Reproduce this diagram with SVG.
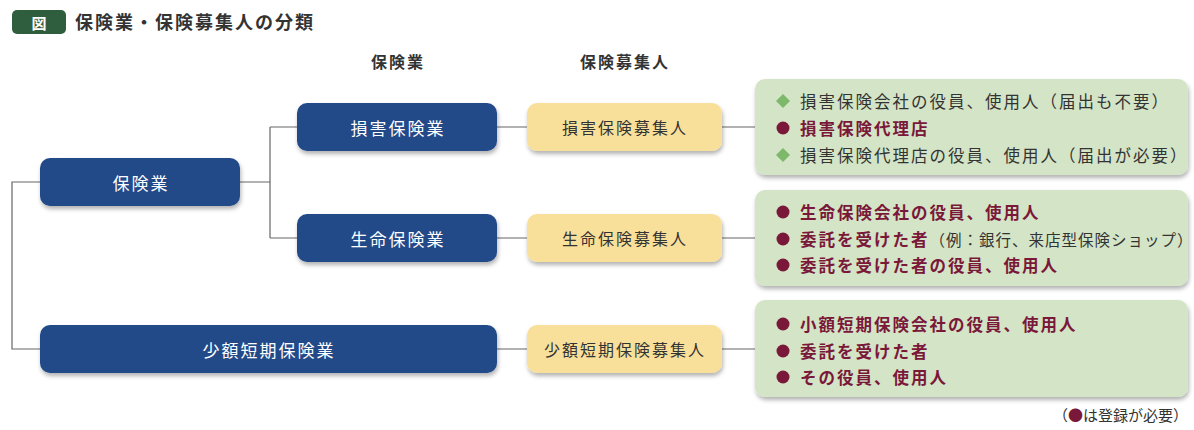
<svg xmlns="http://www.w3.org/2000/svg" width="1194" height="430" viewBox="0 0 1194 430">
<defs>
<filter id="sh" x="-10%" y="-20%" width="120%" height="150%">
<feDropShadow dx="1" dy="3" stdDeviation="2" flood-color="#000" flood-opacity="0.3"/>
</filter>
<style>
text{font-family:"Noto Sans CJK JP","Noto Sans",sans-serif}
.blue{fill:#214a88;filter:url(#sh)}
.yel{fill:#f8e09b;filter:url(#sh)}
.grn{fill:#d4e4c6;filter:url(#sh)}
.bt{fill:#fff;font-size:17px;letter-spacing:2px;text-anchor:middle;dominant-baseline:central}
.yt{fill:#333;font-size:16px;letter-spacing:2px;text-anchor:middle;dominant-baseline:central}
.hd{fill:#333;font-size:16px;font-weight:bold;letter-spacing:2px;text-anchor:middle}
.li{font-size:16.5px;letter-spacing:2px;dominant-baseline:central}
.m{fill:#7a1839;font-weight:bold}
.g{fill:#333}
.sm{fill:#333;font-weight:normal;font-size:15.5px;letter-spacing:1px}
.dot{fill:#7a1839}
.dia{fill:#7db86b}
.ln{stroke:#666;stroke-width:1.2;fill:none}
</style>
</defs>
<rect width="1194" height="430" fill="#fff"/>
<g id="title">
<rect x="12" y="10" width="54" height="24" rx="5" fill="#2f5e3f"/>
<text x="39" y="22.5" fill="#fff" font-size="15" font-weight="bold" text-anchor="middle" dominant-baseline="central">図</text>
<text x="75" y="29" fill="#333" font-size="18" font-weight="bold" letter-spacing="2">保険業・保険募集人の分類</text>
</g>
<g id="headers">
<text class="hd" x="398" y="68">保険業</text>
<text class="hd" x="625" y="68">保険募集人</text>
</g>
<g id="connectors">
<path class="ln" d="M240 182H270M270 127V238M270 127H297M270 238H297"/>
<path class="ln" d="M40 182H12V349H40"/>
<path class="ln" d="M497 127H527M497 238H527M497 349H527"/>
<path class="ln" d="M722 127H755M722 238H755M722 349H755"/>
</g>
<g id="n-hoken">
<rect class="blue" x="40" y="158" width="200" height="48" rx="10"/>
<text class="bt" x="141" y="182">保険業</text>
</g>
<g id="n-songai">
<rect class="blue" x="297" y="103" width="200" height="48" rx="10"/>
<text class="bt" x="398" y="127">損害保険業</text>
</g>
<g id="n-seimei">
<rect class="blue" x="297" y="214" width="200" height="48" rx="10"/>
<text class="bt" x="398" y="238">生命保険業</text>
</g>
<g id="n-shougaku">
<rect class="blue" x="40" y="325" width="457" height="48" rx="10"/>
<text class="bt" x="269" y="349">少額短期保険業</text>
</g>
<g id="y-songai">
<rect class="yel" x="527" y="103" width="195" height="48" rx="10"/>
<text class="yt" x="625" y="127">損害保険募集人</text>
</g>
<g id="y-seimei">
<rect class="yel" x="527" y="214" width="195" height="48" rx="10"/>
<text class="yt" x="625" y="238">生命保険募集人</text>
</g>
<g id="y-shougaku">
<rect class="yel" x="527" y="325" width="195" height="48" rx="10"/>
<text class="yt" x="625" y="349">少額短期保険募集人</text>
</g>
<g id="g-songai">
<rect class="grn" x="755" y="79" width="433" height="96" rx="10"/>
<path class="dia" d="M783 94l7 7-7 7-7-7z"/>
<text class="li g" x="800" y="101">損害保険会社の役員、使用人（届出も不要）</text>
<circle class="dot" cx="783" cy="128" r="6.5"/>
<text class="li m" x="800" y="128">損害保険代理店</text>
<path class="dia" d="M783 148l7 7-7 7-7-7z"/>
<text class="li g" x="800" y="155">損害保険代理店の役員、使用人（届出が必要）</text>
</g>
<g id="g-seimei">
<rect class="grn" x="755" y="190" width="433" height="96" rx="10"/>
<circle class="dot" cx="783" cy="212" r="6.5"/>
<text class="li m" x="800" y="212">生命保険会社の役員、使用人</text>
<circle class="dot" cx="783" cy="239" r="6.5"/>
<text class="li m" x="800" y="239">委託を受けた者<tspan class="sm">（例：銀行、来店型保険ショップ）</tspan></text>
<circle class="dot" cx="783" cy="265" r="6.5"/>
<text class="li m" x="800" y="265">委託を受けた者の役員、使用人</text>
</g>
<g id="g-shougaku">
<rect class="grn" x="755" y="300" width="433" height="97" rx="10"/>
<circle class="dot" cx="783" cy="324" r="6.5"/>
<text class="li m" x="800" y="324">小額短期保険会社の役員、使用人</text>
<circle class="dot" cx="783" cy="351" r="6.5"/>
<text class="li m" x="800" y="351">委託を受けた者</text>
<circle class="dot" cx="783" cy="377" r="6.5"/>
<text class="li m" x="800" y="377">その役員、使用人</text>
</g>
<g id="note">
<text x="1188" y="421" fill="#333" font-size="15" text-anchor="end">（<tspan fill="#7a1839">●</tspan>は登録が必要）</text>
</g>
</svg>
